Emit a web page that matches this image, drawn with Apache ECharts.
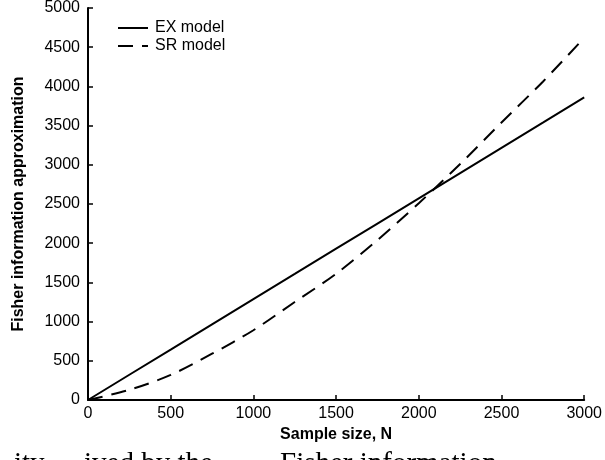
<!DOCTYPE html>
<html>
<head>
<meta charset="utf-8">
<title>Fisher information approximation</title>
<script src="https://cdn.jsdelivr.net/npm/echarts@6/dist/echarts.min.js"></script>
<style>
  html, body { margin: 0; padding: 0; background: #fff; }
  #chart { width: 605px; height: 460px; }
</style>
</head>
<body>
<div id="chart"></div>
<script>
// sample sizes N
var sampleSize = [0, 250, 500, 750, 1000, 1250, 1500, 1750, 2000, 2250, 2500, 2750, 3000];
// EX model (straight line)
var exModel = [0, 322, 643, 965, 1287, 1608, 1930, 2251, 2573, 2894, 3216, 3537, 3860];
// SR model (curved, dashed)
var srModel = [0, 130, 320, 590, 890, 1250, 1610, 2040, 2510, 3010, 3540, 4060, 4620];

var xTicks = [0, 500, 1000, 1500, 2000, 2500, 3000];
var yTicks = [0, 500, 1000, 1500, 2000, 2500, 3000, 3500, 4000, 4500, 5000];

function pairs(xs, ys) {
  return xs.map(function (x, i) { return [x, ys[i]]; });
}

var font = 'Liberation Sans, Arial, sans-serif';
var serif = '29px "Liberation Serif", serif';

var option = {
  animation: false,
  backgroundColor: '#ffffff',
  grid: { left: 88, right: 18, top: 7, bottom: 60 },
  legend: {
    orient: 'vertical',
    left: 112,
    top: 15,
    itemWidth: 30,
    itemHeight: 14,
    itemGap: 2,
    data: ['EX model', 'SR model'],
    itemStyle: { opacity: 0 },   // only the line sample, no marker
    textStyle: { color: '#000', fontFamily: font, fontSize: 16, padding: [0, 0, 0, 2] }
  },
  xAxis: {
    type: 'value',
    min: xTicks[0],
    max: xTicks[xTicks.length - 1],
    interval: 500,
    name: 'Sample size, N',
    nameLocation: 'middle',
    nameGap: 24,
    nameTextStyle: { color: '#000', fontFamily: font, fontSize: 16, fontWeight: 'bold' },
    axisLine: { lineStyle: { color: '#000', width: 2 } },
    axisTick: { inside: true, length: 5, lineStyle: { color: '#000', width: 1.5 } },
    axisLabel: { color: '#000', fontFamily: font, fontSize: 16, margin: 6, formatter: function (v) { return String(v); } },
    splitLine: { show: false }
  },
  yAxis: {
    type: 'value',
    min: yTicks[0],
    max: yTicks[yTicks.length - 1],
    interval: 500,
    name: 'Fisher information approximation',
    nameLocation: 'middle',
    nameGap: 61,
    nameTextStyle: { color: '#000', fontFamily: font, fontSize: 16, fontWeight: 'bold' },
    axisLine: { show: true, lineStyle: { color: '#000', width: 2 } },
    axisTick: { show: true, inside: true, length: 5, lineStyle: { color: '#000', width: 1.5 } },
    axisLabel: { color: '#000', fontFamily: font, fontSize: 16, margin: 8, formatter: function (v) { return String(v); } },
    splitLine: { show: false }
  },
  series: [
    {
      name: 'EX model',
      type: 'line',
      showSymbol: false,
      symbol: 'none',
      data: pairs(sampleSize, exModel),
      lineStyle: { color: '#000', width: 2, type: 'solid' },
      itemStyle: { color: '#000' }
    },
    {
      name: 'SR model',
      type: 'line',
      showSymbol: false,
      symbol: 'none',
      smooth: 0.3,
      data: pairs(sampleSize, srModel),
      lineStyle: { color: '#000', width: 2, type: [15, 9] },
      itemStyle: { color: '#000' }
    }
  ],
  // cut-off caption text at the bottom of the picture (only the tops show)
  graphic: [
    { type: 'text', left: 14, top: 450, style: { text: 'ity', fill: '#000', font: serif } },
    { type: 'text', left: 84, top: 450, style: { text: 'ived by the', fill: '#000', font: serif } },
    { type: 'text', left: 280, top: 450, style: { text: 'Fisher information', fill: '#000', font: serif } }
  ]
};

var chart = echarts.init(document.getElementById('chart'), null, { renderer: 'canvas' });
chart.setOption(option, true);
</script>
</body>
</html>
